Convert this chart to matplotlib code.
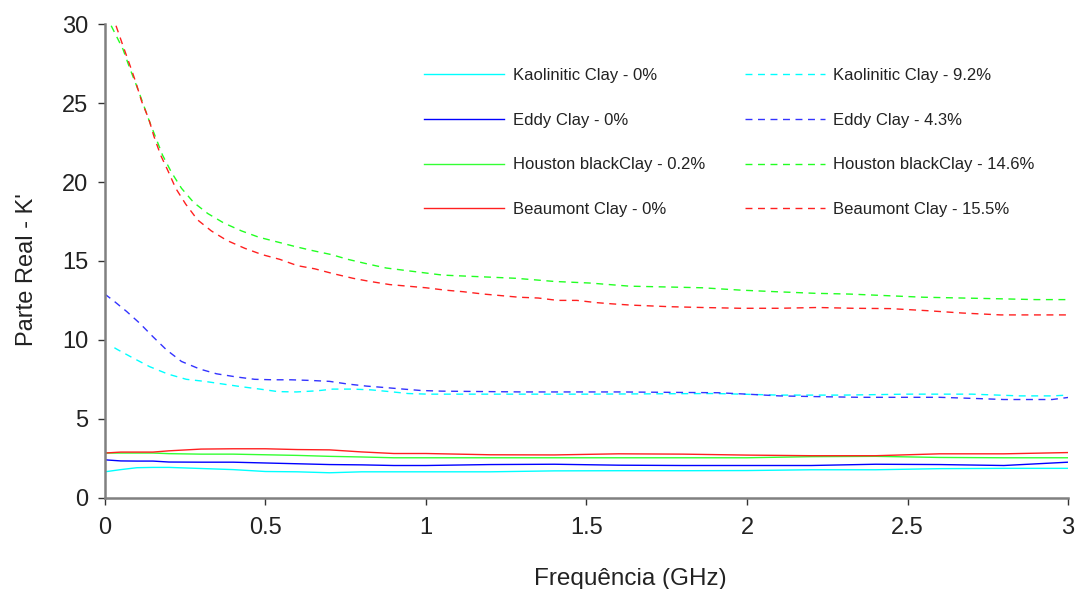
import numpy as np
import matplotlib
matplotlib.use("Agg")
import matplotlib.pyplot as plt
from matplotlib.ticker import FuncFormatter

plt.rcParams['font.family'] = ['Liberation Sans', 'DejaVu Sans']

# solid curves (0% moisture) share one frequency grid
freq_dry = [0.0, 0.05, 0.1, 0.15, 0.2, 0.3, 0.4, 0.5, 0.6, 0.7, 0.8, 0.9, 1.0,
            1.2, 1.4, 1.6, 1.8, 2.0, 2.2, 2.4, 2.6, 2.8, 3.0]
kaol_dry = [1.64, 1.78, 1.90, 1.92, 1.92, 1.85, 1.78, 1.66, 1.64, 1.58, 1.64, 1.64, 1.64,
            1.64, 1.70, 1.71, 1.71, 1.72, 1.77, 1.77, 1.84, 1.86, 1.86]
eddy_dry = [2.40, 2.33, 2.32, 2.32, 2.26, 2.25, 2.25, 2.20, 2.15, 2.10, 2.08, 2.04, 2.04,
            2.10, 2.12, 2.06, 2.04, 2.04, 2.04, 2.12, 2.10, 2.04, 2.25]
hous_dry = [2.83, 2.83, 2.83, 2.83, 2.79, 2.76, 2.76, 2.72, 2.68, 2.62, 2.58, 2.53, 2.53,
            2.53, 2.53, 2.53, 2.53, 2.53, 2.60, 2.62, 2.55, 2.53, 2.53]
beau_dry = [2.83, 2.89, 2.89, 2.89, 2.97, 3.08, 3.10, 3.10, 3.05, 3.03, 2.90, 2.80, 2.80,
            2.72, 2.71, 2.78, 2.76, 2.70, 2.66, 2.66, 2.78, 2.78, 2.86]

# dashed curves (wet samples)
freq_kaol = [0.03, 0.041, 0.088, 0.14, 0.197, 0.254, 0.311, 0.368, 0.426, 0.483, 0.54, 0.597,
             0.66, 0.71, 0.773, 0.83, 0.888, 0.944, 1.006, 1.1, 1.5, 1.9, 2.1, 2.3, 2.5,
             2.7, 2.85, 2.95, 3.0]
kaol_wet = [9.5, 9.37, 8.85, 8.3, 7.83, 7.5, 7.37, 7.2, 7.03, 6.88, 6.72, 6.7,
            6.77, 6.88, 6.88, 6.83, 6.72, 6.6, 6.56, 6.56, 6.56, 6.6, 6.5, 6.5, 6.56,
            6.56, 6.45, 6.45, 6.5]

freq_eddy = [0.0, 0.026, 0.068, 0.109, 0.15, 0.192, 0.239, 0.296, 0.348, 0.41, 0.467, 0.524,
             0.58, 0.639, 0.70, 0.757, 0.815, 0.872, 0.93, 0.986, 1.05, 1.3, 1.6, 1.91,
             2.0, 2.1, 2.2, 2.35, 2.6, 2.72, 2.8, 2.95, 3.0]
eddy_wet = [12.9, 12.5, 11.8, 11.05, 10.2, 9.37, 8.63, 8.15, 7.85, 7.65, 7.5, 7.47,
            7.47, 7.43, 7.37, 7.2, 7.07, 6.98, 6.88, 6.79, 6.75, 6.7, 6.7, 6.65,
            6.56, 6.45, 6.41, 6.36, 6.36, 6.28, 6.22, 6.22, 6.35]

freq_hous = [0.02, 0.057, 0.078, 0.099, 0.117, 0.138, 0.159, 0.18, 0.208, 0.239, 0.277, 0.321,
             0.371, 0.426, 0.48, 0.538, 0.595, 0.648, 0.706, 0.757, 0.82, 0.877, 0.935, 0.99,
             1.053, 1.168, 1.28, 1.40, 1.51, 1.635, 1.75, 1.86, 1.98, 2.09, 2.21, 2.32,
             2.435, 2.55, 2.67, 2.79, 2.90, 3.0]
hous_wet = [29.9, 28.4, 27.2, 26.1, 25.1, 23.9, 22.8, 21.7, 20.6, 19.6, 18.7, 18.0,
            17.4, 16.9, 16.5, 16.2, 15.9, 15.65, 15.4, 15.1, 14.8, 14.55, 14.4, 14.26,
            14.1, 14.0, 13.9, 13.7, 13.6, 13.4, 13.35, 13.3, 13.15, 13.05, 12.95, 12.9,
            12.8, 12.7, 12.65, 12.6, 12.55, 12.55]

freq_beau = [0.035, 0.059, 0.08, 0.097, 0.115, 0.137, 0.153, 0.174, 0.197, 0.221, 0.252, 0.289,
             0.332, 0.38, 0.436, 0.49, 0.545, 0.6, 0.654, 0.71, 0.773, 0.826, 0.888, 0.944,
             1.0, 1.06, 1.116, 1.18, 1.235, 1.29, 1.35, 1.41, 1.47, 1.53, 1.58, 1.64,
             1.70, 1.76, 1.86, 1.98, 2.10, 2.22, 2.33, 2.445, 2.56, 2.67, 2.79, 2.90, 3.0]
beau_wet = [29.9, 28.5, 27.3, 26.3, 25.1, 24.0, 22.9, 21.7, 20.7, 19.6, 18.6, 17.6,
            16.9, 16.3, 15.8, 15.4, 15.1, 14.7, 14.5, 14.2, 13.9, 13.7, 13.5, 13.4,
            13.3, 13.15, 13.05, 12.9, 12.8, 12.7, 12.65, 12.5, 12.5, 12.36, 12.28, 12.2,
            12.15, 12.1, 12.05, 12.0, 12.0, 12.05, 12.0, 11.98, 11.85, 11.7, 11.58, 11.58, 11.58]

fig = plt.figure(figsize=(10.8, 5.89), dpi=100)
ax = fig.add_axes([0.097, 0.155, 0.892, 0.804])

lw = 1.0
dash = (5, 4)
ax.plot(freq_dry, kaol_dry, color="#00ffff", lw=lw, label="Kaolinitic Clay - 0%")
ax.plot(freq_dry, eddy_dry, color="#0000ff", lw=lw, label="Eddy Clay - 0%")
ax.plot(freq_dry, hous_dry, color="#33ff33", lw=lw, label="Houston blackClay - 0.2%")
ax.plot(freq_dry, beau_dry, color="#ff2020", lw=lw, label="Beaumont Clay - 0%")
ax.plot(freq_kaol, kaol_wet, color="#00ffff", lw=lw, dashes=dash, label="Kaolinitic Clay - 9.2%")
ax.plot(freq_eddy, eddy_wet, color="#3333ff", lw=lw, dashes=dash, label="Eddy Clay - 4.3%")
ax.plot(freq_hous, hous_wet, color="#22ff22", lw=lw, dashes=dash, label="Houston blackClay - 14.6%")
ax.plot(freq_beau, beau_wet, color="#ff2020", lw=lw, dashes=dash, label="Beaumont Clay - 15.5%")

ax.set_xlim(0, 3)
ax.set_ylim(0, 30)
ax.set_xticks(np.arange(0, 3.01, 0.5))
ax.set_yticks(np.arange(0, 31, 5))
ax.xaxis.set_major_formatter(FuncFormatter(lambda v, p: "%g" % v))

for s in ["top", "right"]:
    ax.spines[s].set_visible(False)
for s in ["left", "bottom"]:
    ax.spines[s].set_color("#808080")
    ax.spines[s].set_linewidth(1.8)
ax.tick_params(axis="both", direction="out", length=5, width=1, color="#333333",
               labelsize=17, colors="#222222")
ax.tick_params(axis="y", pad=7)
ax.tick_params(axis="x", pad=9)

ax.set_xlabel("Frequência (GHz)", fontsize=17.5, color="#222222")
ax.set_ylabel("Parte Real - K'", fontsize=17, color="#222222")
ax.xaxis.set_label_coords(0.546, -0.148)
ax.yaxis.set_label_coords(-0.069, 0.481)

leg = ax.legend(ncol=2, loc="upper left", bbox_to_anchor=(0.316, 0.939), frameon=False,
                fontsize=12, handlelength=4.8, handletextpad=0.5, columnspacing=2.4,
                labelspacing=1.78)
for t in leg.get_texts():
    t.set_color("#222222")

fig.savefig("out.png", dpi=100)
